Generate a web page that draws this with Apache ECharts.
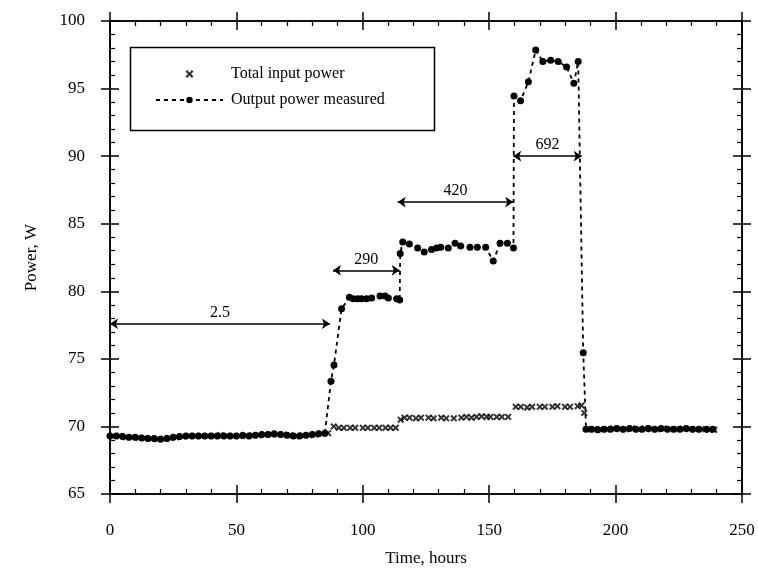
<!DOCTYPE html>
<html>
<head>
<meta charset="utf-8">
<script src="https://cdn.jsdelivr.net/npm/echarts@6/dist/echarts.min.js"></script>
<style>
  html, body { margin: 0; padding: 0; background: #fff; }
  #chart { width: 758px; height: 573px; }
</style>
</head>
<body>
<div id="chart"></div>
<script>
// ---- Data ----
const outputHours = [0,2.5,5,7.5,10,12.5,15,17.5,20,22.5,25,27.5,30,32.5,35,37.5,40,42.5,45,47.5,50,52.5,55,57.5,60,62.5,65,67.5,70,72.5,75,77.5,80,82.5,85,
  87.4,88.6,91.6,94.7,96.2,98,99.5,101.5,103.5,106.8,108.8,110.1,113.4,114.6,
  114.8,115.8,118.4,121.7,124.3,127.2,129.2,130.8,133.8,136.5,138.7,142.4,145.3,148.6,151.6,154.3,157.2,159.6,
  159.8,162.4,165.5,168.4,171.2,174.3,177.3,180.6,183.5,185.2,
  187.2,188.3,
  190.5,193,195.5,198,200.5,203,205.5,208,210.5,213,215.5,218,220.5,223,225.5,228,230.5,233,236,238.5];
const outputPower = [69.3,69.3,69.25,69.2,69.2,69.15,69.1,69.1,69.05,69.1,69.2,69.25,69.3,69.3,69.3,69.3,69.3,69.3,69.3,69.3,69.3,69.35,69.3,69.35,69.4,69.4,69.45,69.4,69.35,69.3,69.3,69.35,69.4,69.45,69.5,
  73.35,74.55,78.7,79.55,79.45,79.45,79.45,79.45,79.5,79.65,79.65,79.5,79.45,79.35,
  82.8,83.65,83.5,83.2,82.9,83.1,83.2,83.25,83.2,83.55,83.35,83.25,83.25,83.25,82.25,83.55,83.55,83.2,
  94.45,94.1,95.5,97.85,97.0,97.1,97.0,96.6,95.4,97.0,
  75.45,69.8,
  69.8,69.75,69.8,69.8,69.85,69.8,69.85,69.8,69.8,69.85,69.8,69.85,69.8,69.8,69.8,69.85,69.8,69.8,69.8,69.8];

const inputHours = [1.25,3.75,6.25,8.75,11.25,13.75,16.25,18.75,21.25,23.75,26.25,28.75,31.25,33.75,36.25,38.75,41.25,43.75,46.25,48.75,51.25,53.75,56.25,58.75,61.25,63.75,66.25,68.75,71.25,73.75,76.25,78.75,81.25,83.75,86.25,
  88.5,
  90.5,92.5,95,97,100,102,104.5,106.5,109,111,113,
  115,
  116.5,118.5,121,123,126,128,131,133,136,139,141,143,145,147,149,150.5,153,155,157.5,
  160.5,162.5,165,167,170,172,175,177,180,182,185,186.5,
  187.6,188.8,
  191.5,194,196.5,199,201.5,204,206.5,209,211.5,214,216.5,219,221.5,224,226.5,229,231.5,234,237,239];
const inputPower = [69.3,69.3,69.2,69.2,69.15,69.15,69.1,69.05,69.1,69.15,69.2,69.25,69.3,69.3,69.3,69.3,69.3,69.35,69.3,69.3,69.3,69.3,69.35,69.35,69.4,69.4,69.4,69.4,69.35,69.3,69.35,69.35,69.4,69.45,69.5,
  70.0,
  69.9,69.9,69.9,69.9,69.9,69.9,69.9,69.9,69.9,69.9,69.9,
  70.5,
  70.65,70.65,70.6,70.65,70.65,70.6,70.65,70.6,70.6,70.65,70.7,70.65,70.7,70.75,70.7,70.7,70.7,70.7,70.7,
  71.45,71.45,71.4,71.45,71.45,71.45,71.45,71.5,71.45,71.45,71.5,71.55,
  71.0,69.8,
  69.8,69.8,69.8,69.85,69.8,69.8,69.85,69.8,69.85,69.8,69.8,69.85,69.8,69.8,69.85,69.8,69.8,69.8,69.75,69.75];

// Period annotations (double arrows)
const arrowLabels = ['2.5','290','420','692'];
const arrowStart  = [0, 88.2, 113.8, 159.5];
const arrowEnd    = [87, 114.6, 159.5, 186.6];
const arrowLevel  = [77.6, 81.55, 86.6, 90.0];

// Axis ticks
const xTicks = { min: 0, max: 250, step: 50 };
const yTicks = { min: 65, max: 100, step: 5 };
const seriesNames = ['Total input power', 'Output power measured'];

// ---- Build chart ----
const FONT = 'Liberation Serif';
const black = '#000';
const xMark = 'path://M0,2L2,0L5,3L8,0L10,2L7,5L10,8L8,10L5,7L2,10L0,8L3,5Z';

function zip(a, b) { return a.map((v, i) => [v, b[i]]); }

function makeAxis(base, pos, inner) {
  const ax = Object.assign({
    type: 'value', position: pos, gridIndex: 0,
    splitLine: { show: false },
    axisLine: { show: true, onZero: false, lineStyle: { color: black, width: 1.6 } },
    axisLabel: { show: false },
  }, base);
  if (inner) {
    ax.axisTick = { show: true, inside: true, length: 9, lineStyle: { color: black, width: 1.5 } };
    ax.minorTick = { show: true, splitNumber: 5, length: 5, lineStyle: { color: black, width: 1.2 } };
  } else {
    ax.axisTick = { show: true, inside: false, length: 9, lineStyle: { color: black, width: 1.5 } };
    ax.minorTick = { show: false };
  }
  return ax;
}

const xBase = { min: xTicks.min, max: xTicks.max, interval: xTicks.step };
const yBase = { min: yTicks.min, max: yTicks.max, interval: yTicks.step };

const xMain = makeAxis(xBase, 'bottom', true);
xMain.axisLabel = { show: true, margin: 28, color: black, fontFamily: FONT, fontSize: 17 };
xMain.name = 'Time, hours';
xMain.nameLocation = 'middle';
xMain.nameGap = 56;
xMain.nameTextStyle = { color: black, fontFamily: FONT, fontSize: 17 };

const yMain = makeAxis(yBase, 'left', true);
yMain.axisLabel = { show: true, margin: 25, color: black, fontFamily: FONT, fontSize: 17 };
yMain.name = 'Power, W';
yMain.nameLocation = 'middle';
yMain.nameGap = 70;
yMain.nameRotate = 90;
yMain.nameTextStyle = { color: black, fontFamily: FONT, fontSize: 17 };

const option = {
  backgroundColor: '#fff',
  animation: false,
  grid: { left: 110, right: 16, top: 21, bottom: 79, containLabel: false },
  xAxis: [xMain, makeAxis(xBase, 'bottom', false), makeAxis(xBase, 'top', true), makeAxis(xBase, 'top', false)],
  yAxis: [yMain, makeAxis(yBase, 'left', false), makeAxis(yBase, 'right', true), makeAxis(yBase, 'right', false)],
  legend: {
    data: seriesNames,
    orient: 'vertical',
    left: 150, top: 61,
    itemWidth: 67, itemHeight: 8, itemGap: 10,
    textStyle: { color: black, fontFamily: FONT, fontSize: 16, padding: [0, 0, 0, 3] },
    selectedMode: false
  },
  graphic: [{
    type: 'rect', left: 128, top: 45, z: 0,
    shape: { width: 304, height: 83 },
    style: { fill: 'none', stroke: black, lineWidth: 1.5 }
  }],
  series: [
    {
      name: seriesNames[0], type: 'scatter', xAxisIndex: 0, yAxisIndex: 0,
      symbol: xMark, symbolSize: 7,
      itemStyle: { color: black },
      data: zip(inputHours, inputPower)
    },
    {
      name: seriesNames[1], type: 'line', xAxisIndex: 0, yAxisIndex: 0,
      symbol: 'circle', symbolSize: 7, showAllSymbol: true,
      itemStyle: { color: black },
      lineStyle: { color: black, width: 1.8, type: [4, 4] },
      data: zip(outputHours, outputPower)
    },
    {
      name: 'periods', type: 'line', xAxisIndex: 0, yAxisIndex: 0, data: [],
      markLine: {
        silent: true,
        symbol: ['arrow', 'arrow'], symbolSize: 8,
        lineStyle: { color: black, width: 1.7, type: 'solid' },
        label: { show: true, position: 'insideMiddleTop', distance: 3, color: black,
                 fontFamily: FONT, fontSize: 16, formatter: p => p.name },
        data: arrowLabels.map((lab, i) => [
          { name: lab, coord: [arrowStart[i], arrowLevel[i]] },
          { coord: [arrowEnd[i], arrowLevel[i]] }
        ])
      }
    }
  ]
};

const chart = echarts.init(document.getElementById('chart'), null, { renderer: 'canvas' });
chart.setOption(option);
</script>
</body>
</html>
